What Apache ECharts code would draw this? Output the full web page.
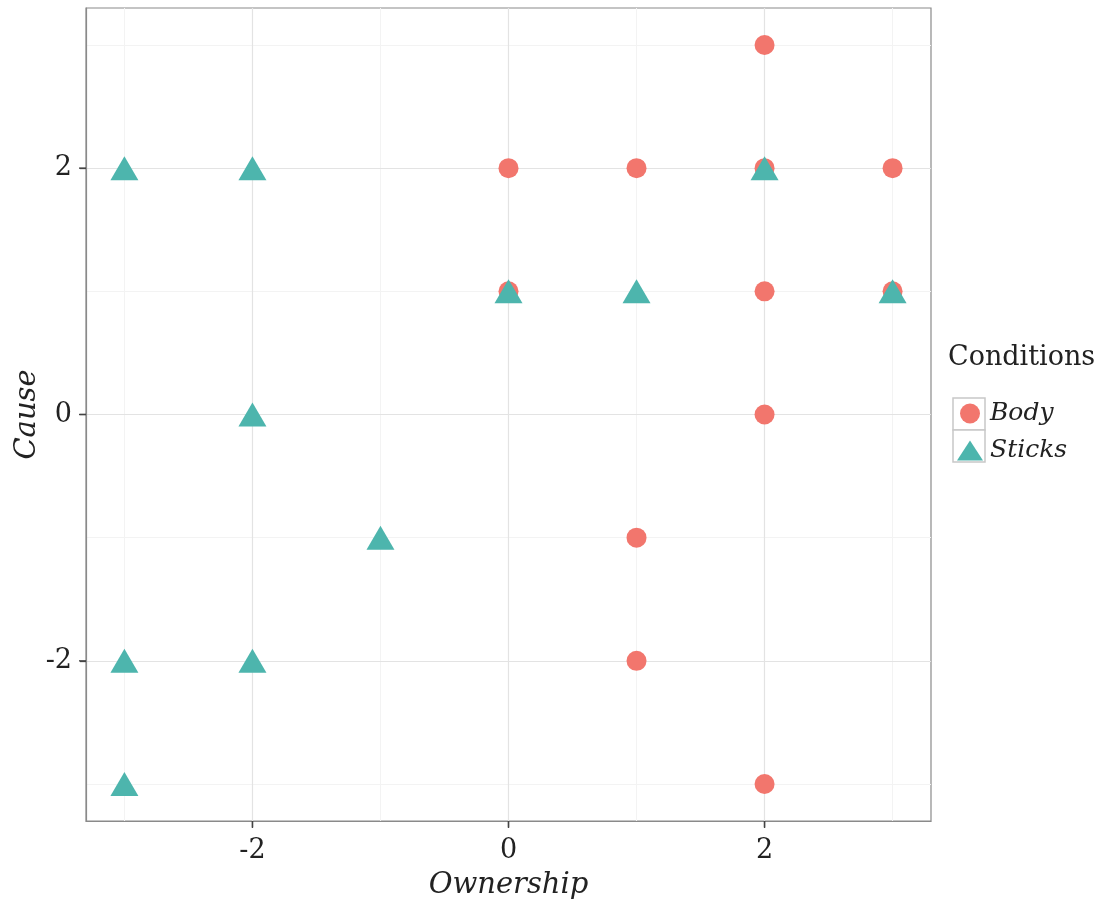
<!DOCTYPE html>
<html>
<head>
<meta charset="utf-8">
<script src="https://cdn.jsdelivr.net/npm/echarts@6/dist/echarts.min.js"></script>
<style>
html,body{margin:0;padding:0;background:#fff;}
#chart{width:1103px;height:908px;}
</style>
</head>
<body>
<div id="chart"></div>
<script>
var bodyPoints = [[2,3],[0,2],[1,2],[2,2],[3,2],[0,1],[2,1],[3,1],[2,0],[1,-1],[1,-2],[2,-3]];
var sticksPoints = [[-3,2],[-2,2],[2,2],[0,1],[1,1],[3,1],[-2,0],[-1,-1],[-3,-2],[-2,-2],[-3,-3]];
var xTicks = [-2,0,2];
var yTicks = [-2,0,2];
var xMinor = [-3,-1,1,3];
var yMinor = [-3,-1,1,3];
var AXMIN = -3.3, AXMAX = 3.3;

var FONT = 'DejaVu Serif';
var chart = echarts.init(document.getElementById('chart'));

function gridLines(){
  var d = [];
  xMinor.forEach(function(v){ d.push({xAxis:v, lineStyle:{color:'#f3f3f3', width:1, type:'solid'}}); });
  yMinor.forEach(function(v){ d.push({yAxis:v, lineStyle:{color:'#f3f3f3', width:1, type:'solid'}}); });
  xTicks.forEach(function(v){ d.push({xAxis:v, lineStyle:{color:'#e3e3e3', width:1.2, type:'solid'}}); });
  yTicks.forEach(function(v){ d.push({yAxis:v, lineStyle:{color:'#e3e3e3', width:1.2, type:'solid'}}); });
  return d;
}

var xTickData = xTicks.map(function(v){ return [v, AXMIN]; });
var yTickData = yTicks.map(function(v){ return [AXMIN, v]; });
function tickSeries(name, data, dx, dy){
  return {
    type:'custom', name:name, silent:true, clip:false, z:5, data:data,
    renderItem:function(params, api){
      var p = api.coord([api.value(0), api.value(1)]);
      return {type:'line', shape:{x1:p[0], y1:p[1], x2:p[0]+dx, y2:p[1]+dy},
              style:{stroke:'#444', lineWidth:1.4}};
    }
  };
}

chart.setOption({
  animation:false,
  backgroundColor:'#fff',
  grid:{left:86, top:8, width:845, height:813, show:true, borderColor:'#8a8a8a', borderWidth:1.2, backgroundColor:'transparent', containLabel:false},
  title:{text:'Conditions', left:943, top:339, textStyle:{fontFamily:FONT, fontSize:27, fontWeight:'normal', color:'#222'}},
  legend:{
    orient:'vertical', left:952, top:396, itemWidth:26, itemHeight:20, itemGap:12,
    textStyle:{fontFamily:FONT, fontSize:25, fontStyle:'italic', color:'#222', padding:[0,0,0,2]},
    data:[{name:'Body', icon:'circle'},{name:'Sticks', icon:'triangle'}]
  },
  graphic:[
    {type:'rect', shape:{x:953, y:398, width:32, height:32}, style:{fill:'#fff', stroke:'#c8c8c8', lineWidth:1.5}, z:-1},
    {type:'rect', shape:{x:953, y:430, width:32, height:32}, style:{fill:'#fff', stroke:'#c8c8c8', lineWidth:1.5}, z:-1}
  ],
  xAxis:{
    type:'value', min:AXMIN, max:AXMAX,
    axisLine:{show:true, onZero:false, lineStyle:{color:'#8a8a8a', width:1.2}},
    splitLine:{show:false},
    name:'Ownership', nameLocation:'middle', nameGap:50, nameMoveOverlap:false,
    nameTextStyle:{fontFamily:FONT, fontSize:29, fontStyle:'italic', color:'#222'},
    axisTick:{show:true, length:6, customValues:xTicks, lineStyle:{color:'#444', width:1.3}},
    axisLabel:{color:'#222', fontFamily:FONT, fontSize:27, margin:16, customValues:xTicks}
  },
  yAxis:{
    type:'value', min:AXMIN, max:AXMAX,
    axisLine:{show:true, onZero:false, lineStyle:{color:'#8a8a8a', width:1.2}},
    splitLine:{show:false},
    name:'Cause', nameLocation:'middle', nameGap:44, nameMoveOverlap:false,
    nameTextStyle:{fontFamily:FONT, fontSize:29, fontStyle:'italic', color:'#222'},
    axisTick:{show:true, length:6, customValues:yTicks, lineStyle:{color:'#444', width:1.3}},
    axisLabel:{color:'#222', fontFamily:FONT, fontSize:27, margin:14, customValues:yTicks}
  },
  series:[
    {type:'scatter', name:'grid', data:[], silent:true, z:0,
     markLine:{silent:true, z:0, symbol:['none','none'], label:{show:false}, animation:false, data:gridLines()}},
    tickSeries('xticks', xTickData, 0, 7),
    tickSeries('yticks', yTickData, -7, 0),
    {type:'scatter', name:'Body', data:bodyPoints, symbol:'circle', symbolSize:20,
     itemStyle:{color:'#F2766D', opacity:1}, z:3},
    {type:'scatter', name:'Sticks', data:sticksPoints, symbol:'triangle', symbolSize:[28,24],
     itemStyle:{color:'#4DB5AD', opacity:1}, z:4}
  ]
});
</script>
</body>
</html>
